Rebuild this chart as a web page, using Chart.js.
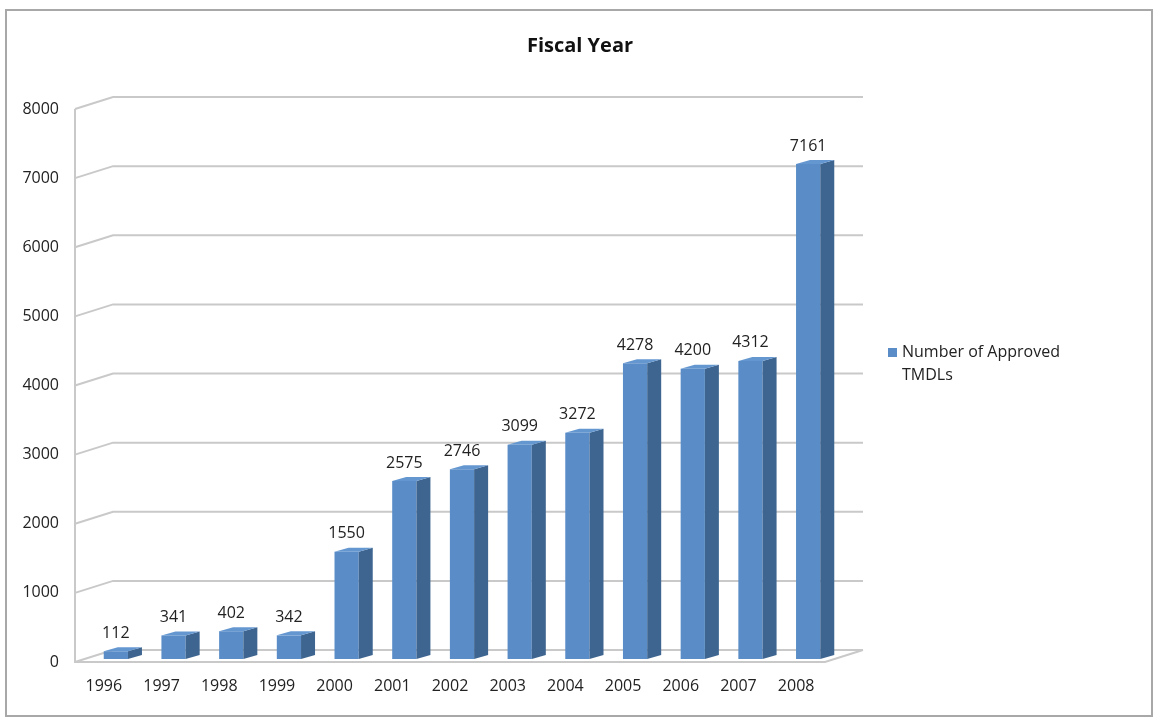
<!DOCTYPE html>
<html>
<head>
<meta charset="utf-8">
<title>Fiscal Year</title>
<script src="https://cdn.jsdelivr.net/npm/chart.js@4/dist/chart.umd.min.js"></script>
<style>
	body { margin: 0; background: #fff; }
	canvas { display: block; }
</style>
</head>
<body>
<canvas id="tmdl_chart" width="1155" height="718"></canvas>
<script>
var years = ["1996","1997","1998","1999","2000","2001","2002","2003","2004","2005","2006","2007","2008"];
var approvedTmdls = [112, 341, 402, 342, 1550, 2575, 2746, 3099, 3272, 4278, 4200, 4312, 7161];
var yTicks = [0, 1000, 2000, 3000, 4000, 5000, 6000, 7000, 8000];
var seriesName = ["Number of Approved", "TMDLs"];
var chartTitle = "Fiscal Year";

var FONT = "'Open Sans', 'Liberation Sans', sans-serif";
var GRID = "#c9c9c9";
var FRONT = "#5a8dc8";
var SIDE = "#3e6590";
var TOP = "#6497d0";
var DEPTH_X = 38, DEPTH_Y = -12;	// back wall offset
var BAR_X = 14, BAR_Y = -4;		// bar depth
var SHIFT_X = 12, SHIFT_Y = -3;	// bars sit a bit behind the front plane

var wallsAndBars = {
	id: "wallsAndBars",
	beforeDatasetsDraw: function(chart) {
		var ctx = chart.ctx;
		var area = chart.chartArea;
		var y = chart.scales.y;
		ctx.save();
		ctx.strokeStyle = GRID;
		ctx.lineWidth = 2;
		for (var ix in yTicks) {
			var yF = y.getPixelForValue(yTicks[ix]);
			ctx.beginPath();
			ctx.moveTo(area.left, yF);
			ctx.lineTo(area.left + DEPTH_X, yF + DEPTH_Y);
			ctx.lineTo(area.right + DEPTH_X, yF + DEPTH_Y);
			ctx.stroke();
		}
		var y0 = y.getPixelForValue(0);
		var yTop = y.getPixelForValue(yTicks[yTicks.length - 1]);
		ctx.beginPath();
		ctx.moveTo(area.left, yTop);
		ctx.lineTo(area.left, y0);
		ctx.lineTo(area.right, y0);
		ctx.lineTo(area.right + DEPTH_X, y0 + DEPTH_Y);
		ctx.stroke();
		ctx.restore();

		ctx.save();
		ctx.translate(SHIFT_X, SHIFT_Y);
	},
	afterDatasetsDraw: function(chart) {
		var ctx = chart.ctx;
		var bars = chart.getDatasetMeta(0).data;
		for (var ix = 0; ix < bars.length; ix++) {
			var b = bars[ix].getProps(["x", "y", "base", "width"], true);
			var l = b.x - b.width / 2, r = b.x + b.width / 2;
			ctx.fillStyle = SIDE;
			ctx.beginPath();
			ctx.moveTo(r, b.y);
			ctx.lineTo(r + BAR_X, b.y + BAR_Y);
			ctx.lineTo(r + BAR_X, b.base + BAR_Y);
			ctx.lineTo(r, b.base);
			ctx.closePath();
			ctx.fill();
			ctx.fillStyle = TOP;
			ctx.beginPath();
			ctx.moveTo(l, b.y);
			ctx.lineTo(l + BAR_X, b.y + BAR_Y);
			ctx.lineTo(r + BAR_X, b.y + BAR_Y);
			ctx.lineTo(r, b.y);
			ctx.closePath();
			ctx.fill();

			ctx.fillStyle = "#222";
			ctx.font = "16px " + FONT;
			ctx.textAlign = "center";
			ctx.textBaseline = "middle";
			ctx.fillText(approvedTmdls[ix], b.x, b.y - 18);
		}
		ctx.restore();
	},
	afterDraw: function(chart) {
		var ctx = chart.ctx;
		ctx.save();
		ctx.fillStyle = "#111";
		ctx.font = "bold 20px " + FONT;
		ctx.textAlign = "center";
		ctx.textBaseline = "middle";
		ctx.fillText(chartTitle, 580, 46);

		ctx.fillStyle = FRONT;
		ctx.fillRect(888, 348, 9, 9);
		ctx.fillStyle = "#222";
		ctx.font = "16px " + FONT;
		ctx.textAlign = "left";
		ctx.fillText(seriesName[0], 902, 352);
		ctx.fillText(seriesName[1], 902, 375);

		ctx.strokeStyle = "#a8a8a8";
		ctx.lineWidth = 2;
		ctx.strokeRect(6, 10, 1146, 706);
		ctx.restore();
	}
};

var ctx = document.getElementById("tmdl_chart");
var tmdlChart = new Chart(ctx, {
	type: "bar",
	data: {
		labels: years,
		datasets: [{
			label: seriesName.join(" "),
			data: approvedTmdls,
			backgroundColor: FRONT,
			categoryPercentage: 1,
			barPercentage: 0.42
		}]
	},
	plugins: [wallsAndBars],
	options: {
		responsive: false,
		devicePixelRatio: 1,
		animation: false,
		layout: { padding: { left: 0, right: 330, top: 109, bottom: 7 } },
		plugins: {
			legend: { display: false },
			tooltip: { enabled: false },
			title: { display: false }
		},
		scales: {
			x: {
				grid: { display: false, drawTicks: false },
				border: { display: false },
				ticks: { color: "#222", font: { family: FONT, size: 16 }, padding: 15, maxRotation: 0, autoSkip: false },
				afterFit: function(scale) {
					scale.height = 49;
					scale.paddingLeft = 0;
					scale.paddingRight = 0;
				}
			},
			y: {
				min: 0,
				max: 8000,
				grid: { display: false, drawTicks: false },
				border: { display: false },
				afterBuildTicks: function(scale) {
					scale.ticks = yTicks.map(function(v) { return { value: v }; });
				},
				ticks: {
					color: "#222",
					font: { family: FONT, size: 16 },
					padding: 16,
					callback: function(value) { return String(value); }
				},
				afterFit: function(scale) {
					scale.width = 75;
					scale.paddingTop = 0;
					scale.paddingBottom = 0;
				}
			}
		}
	}
});
</script>
</body>
</html>
